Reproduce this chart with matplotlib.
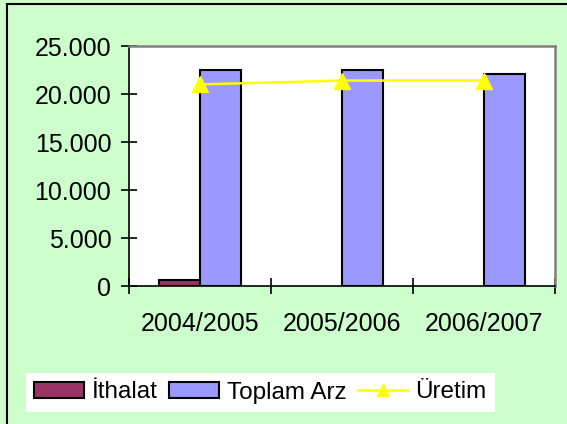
import matplotlib.pyplot as plt
import matplotlib.patches as mpatches
import numpy as np
from matplotlib.ticker import FuncFormatter

plt.rcParams["font.family"] = ["Liberation Sans", "DejaVu Sans"]

seasons = ["2004/2005", "2005/2006", "2006/2007"]
ithalat = [600, np.nan, np.nan]
toplam_arz = [22500, 22500, 22100]
uretim = [21000, 21400, 21400]

C_BG = "#CCFFCC"
C_ITH = "#993366"
C_ARZ = "#9999FF"
C_URE = "#FFFF00"

fig = plt.figure(figsize=(5.67, 4.24), dpi=100)
fig.patch.set_facecolor(C_BG)

# outer chart border (only left/top visible in the crop)
fig.patches.append(mpatches.Rectangle((7 / 567, -0.1), 1.2, 1 - 4 / 424 + 0.1,
                                      transform=fig.transFigure, fill=False,
                                      edgecolor="black", lw=1.5))

ax = fig.add_axes([129 / 567, 1 - 286 / 424, (555 - 129) / 567, (286 - 46) / 424])
ax.set_facecolor("white")

x = np.arange(len(seasons))
w = 0.29
ith = np.array(ithalat, dtype=float)
mask = ~np.isnan(ith)
b1 = ax.bar(x[mask] - w / 2, ith[mask], width=w, color=C_ITH, edgecolor="black",
            lw=1.5, label="İthalat", zorder=2)
b2 = ax.bar(x + w / 2, toplam_arz, width=w, color=C_ARZ, edgecolor="black",
            lw=1.5, label="Toplam Arz", zorder=2)
l1, = ax.plot(x, uretim, color=C_URE, lw=1.8, marker="^", ms=11, label="Üretim", zorder=3)

ax.set_xlim(-0.5, 2.5)
ax.set_ylim(0, 25000)
ax.set_yticks(np.arange(0, 25001, 5000))
ax.yaxis.set_major_formatter(FuncFormatter(lambda v, p: f"{int(v):,}".replace(",", ".")))
ax.set_xticks([-0.5, 0.5, 1.5, 2.5])
ax.set_xticklabels([])
ax.set_xticks(x, minor=True)
ax.set_xticklabels(seasons, minor=True)
ax.tick_params(axis="x", which="minor", length=0, pad=19, labelsize=18)
ax.tick_params(axis="x", which="major", direction="inout", length=11.5, width=1.2)
ax.tick_params(axis="y", direction="inout", length=11.5, width=1.2, labelsize=18, pad=7)

for s in ["top", "right"]:
    ax.spines[s].set_color("#808080")
    ax.spines[s].set_linewidth(1.8)
for s in ["left", "bottom"]:
    ax.spines[s].set_color("black")
    ax.spines[s].set_linewidth(1.2)

fig.legend([b1, b2, l1], ["İthalat", "Toplam Arz", "Üretim"],
           loc="center", bbox_to_anchor=(260.5 / 567, 1 - 392.5 / 424), ncol=3,
           fontsize=17.5, frameon=True, fancybox=False, facecolor="white",
           edgecolor="none", framealpha=1, handlelength=2.05,
           handleheight=0.6, handletextpad=0.3, columnspacing=0.5,
           borderpad=0.35, borderaxespad=0, markerscale=0.8)

fig.savefig("out.png", dpi=100, facecolor=fig.get_facecolor())
